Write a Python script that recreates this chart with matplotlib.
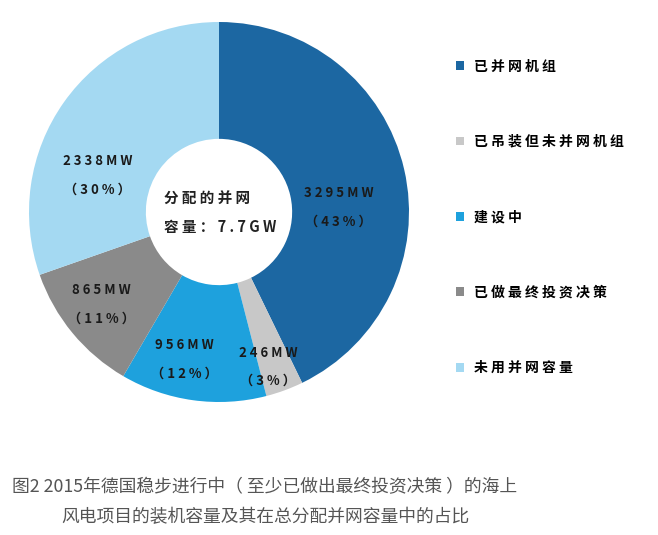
import matplotlib
matplotlib.use("Agg")
import matplotlib.pyplot as plt

plt.rcParams['font.family'] = ['Noto Sans CJK SC', 'DejaVu Sans']

# 数据
categories = ['已并网机组', '已吊装但未并网机组', '建设中', '已做最终投资决策', '未用并网容量']
values_mw = [3295, 246, 956, 865, 2338]
percents = [43, 3, 12, 11, 30]
colors = ['#1c67a2', '#c8c8c8', '#1ea1dd', '#8a8a8a', '#a4d9f2']

center_lines = ['分配的并网', '容量：7.7GW']
caption = ['图2 2015年德国稳步进行中（ 至少已做出最终投资决策 ）的海上',
           '风电项目的装机容量及其在总分配并网容量中的占比']

# 标签位置（饼图半径=1）
label_pos = [(0.63, 0.03), (0.26, -0.81), (-0.18, -0.77), (-0.62, -0.48), (-0.64, 0.20)]


def spaced(s):
    return ' '.join(list(s))


fig = plt.figure(figsize=(6.58, 5.35), dpi=100)
ax = fig.add_axes([29 / 658, 1 - 402 / 535, 380 / 658, 380 / 535])

wedges, _ = ax.pie(values_mw, colors=colors, startangle=90, counterclock=False,
                   radius=1, wedgeprops=dict(width=0.615, linewidth=0))
ax.set_xlim(-1, 1)
ax.set_ylim(-1, 1)
ax.set_aspect('equal')
ax.axis('off')

for (x, y), v, p in zip(label_pos, values_mw, percents):
    ax.text(x, y + 0.07, spaced('%dMW' % v), ha='center', va='center',
            fontsize=9.5, fontweight='bold', color='#1a1a1a')
    ax.text(x, y - 0.08, '（ ' + spaced('%d%%' % p) + ' ）', ha='center', va='center',
            fontsize=9.5, fontweight='bold', color='#1a1a1a')

ax.text(-0.29, 0.07, spaced(center_lines[0]), ha='left', va='center',
        fontsize=10.5, fontweight='bold', color='#222222')
ax.text(-0.29, -0.08, spaced(center_lines[1]), ha='left', va='center',
        fontsize=10.5, fontweight='bold', color='#222222')

# 图例
fig.legend(wedges, [spaced(c) for c in categories], loc='upper left',
           bbox_to_anchor=(443 / 658, 1 - 47 / 535), frameon=False,
           handlelength=0.6, handleheight=0.6, handletextpad=0.7,
           labelspacing=4.42, prop=dict(size=10, weight='bold'))

for i, line in enumerate(caption):
    fig.text(265 / 658, 1 - (487 + 30 * i) / 535, line, ha='center', va='center',
             fontsize=12.8, color='#555555')

fig.savefig('out.png', dpi=100, facecolor='white')
